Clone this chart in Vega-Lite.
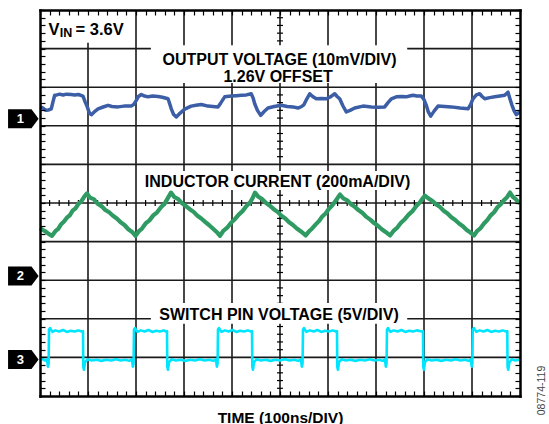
{
  "$schema": "https://vega.github.io/schema/vega-lite/v6.json",
  "width": 480,
  "height": 386,
  "autosize": {"type": "none"},
  "padding": {"left": 40, "top": 10, "right": 29, "bottom": 28},
  "background": "white",
  "config": {"view": {"stroke": null}, "font": "Liberation Sans"},
  "datasets": {
    "vgrid": [{"t":100},{"t":200},{"t":300},{"t":400},{"t":500},{"t":600},{"t":700},{"t":800},{"t":900}],
    "hgrid": [{"d":1},{"d":2},{"d":3},{"d":4},{"d":5},{"d":6},{"d":7},{"d":8},{"d":9}],
    "hticks": [{"t":20},{"t":40},{"t":60},{"t":80},{"t":120},{"t":140},{"t":160},{"t":180},{"t":220},{"t":240},{"t":260},{"t":280},{"t":320},{"t":340},{"t":360},{"t":380},{"t":420},{"t":440},{"t":460},{"t":480},{"t":520},{"t":540},{"t":560},{"t":580},{"t":620},{"t":640},{"t":660},{"t":680},{"t":720},{"t":740},{"t":760},{"t":780},{"t":820},{"t":840},{"t":860},{"t":880},{"t":920},{"t":940},{"t":960},{"t":980}],
    "vticks": [{"d":0.2},{"d":0.4},{"d":0.6},{"d":0.8},{"d":1.2},{"d":1.4},{"d":1.6},{"d":1.8},{"d":2.2},{"d":2.4},{"d":2.6},{"d":2.8},{"d":3.2},{"d":3.4},{"d":3.6},{"d":3.8},{"d":4.2},{"d":4.4},{"d":4.6},{"d":4.8},{"d":5.2},{"d":5.4},{"d":5.6},{"d":5.8},{"d":6.2},{"d":6.4},{"d":6.6},{"d":6.8},{"d":7.2},{"d":7.4},{"d":7.6},{"d":7.8},{"d":8.2},{"d":8.4},{"d":8.6},{"d":8.8},{"d":9.2},{"d":9.4},{"d":9.6},{"d":9.8}],
    "boxes": [
      {"t":2,"t2":187.5,"d":9.15,"d2":9.97},
      {"t":231,"t2":765,"d":8.11,"d2":9.09},
      {"t":210,"t2":777,"d":5.34,"d2":5.83},
      {"t":231,"t2":765,"d":1.87,"d2":2.41}
    ],
    "vout": [
      {"t":0,"v":7.49},{"t":5,"v":7.47},{"t":10,"v":7.42},{"t":13,"v":7.40},{"t":18,"v":7.41},{"t":23.5,"v":7.44},{"t":27,"v":7.62},{"t":30.6,"v":7.79},{"t":35,"v":7.80},{"t":41,"v":7.82},{"t":48,"v":7.80},{"t":55,"v":7.82},{"t":65,"v":7.81},{"t":72,"v":7.80},{"t":80,"v":7.81},{"t":89.6,"v":7.77},{"t":94,"v":7.62},{"t":98.5,"v":7.49},{"t":103,"v":7.33},{"t":107,"v":7.29},{"t":113,"v":7.36},{"t":121,"v":7.44},{"t":130,"v":7.48},{"t":141.7,"v":7.53},{"t":150,"v":7.50},{"t":162.5,"v":7.49},{"t":175,"v":7.51},{"t":190,"v":7.51},{"t":195,"v":7.55},{"t":200.6,"v":7.66},{"t":205,"v":7.76},{"t":211,"v":7.81},{"t":218,"v":7.77},{"t":225,"v":7.75},{"t":235,"v":7.77},{"t":245.8,"v":7.76},{"t":255,"v":7.74},{"t":266.7,"v":7.70},{"t":270,"v":7.58},{"t":273.5,"v":7.44},{"t":278,"v":7.30},{"t":284,"v":7.23},{"t":292,"v":7.33},{"t":301.5,"v":7.43},{"t":315,"v":7.51},{"t":325,"v":7.53},{"t":336,"v":7.55},{"t":350,"v":7.51},{"t":360,"v":7.50},{"t":370.8,"v":7.49},{"t":377,"v":7.60},{"t":384.8,"v":7.75},{"t":398.5,"v":7.77},{"t":409,"v":7.78},{"t":419.4,"v":7.79},{"t":430,"v":7.80},{"t":440,"v":7.83},{"t":444,"v":7.72},{"t":447.3,"v":7.57},{"t":453,"v":7.40},{"t":459.8,"v":7.27},{"t":467,"v":7.37},{"t":475,"v":7.46},{"t":488,"v":7.50},{"t":502.7,"v":7.53},{"t":515,"v":7.50},{"t":527,"v":7.49},{"t":537.5,"v":7.46},{"t":545,"v":7.50},{"t":550,"v":7.55},{"t":556,"v":7.70},{"t":561.9,"v":7.83},{"t":568,"v":7.76},{"t":575.6,"v":7.70},{"t":586,"v":7.71},{"t":596.5,"v":7.70},{"t":605,"v":7.75},{"t":614,"v":7.83},{"t":619,"v":7.76},{"t":624.4,"v":7.70},{"t":631,"v":7.52},{"t":638.1,"v":7.36},{"t":646,"v":7.40},{"t":655.6,"v":7.46},{"t":672.9,"v":7.51},{"t":690.2,"v":7.49},{"t":705,"v":7.48},{"t":718.1,"v":7.49},{"t":725,"v":7.60},{"t":731.9,"v":7.70},{"t":742.3,"v":7.75},{"t":753,"v":7.76},{"t":763.1,"v":7.75},{"t":770,"v":7.77},{"t":777.1,"v":7.79},{"t":785,"v":7.77},{"t":794.4,"v":7.77},{"t":800,"v":7.68},{"t":804.8,"v":7.53},{"t":809,"v":7.36},{"t":814,"v":7.25},{"t":821,"v":7.38},{"t":829.2,"v":7.51},{"t":843,"v":7.50},{"t":856.9,"v":7.49},{"t":875,"v":7.46},{"t":891.7,"v":7.44},{"t":897,"v":7.55},{"t":902.1,"v":7.70},{"t":909,"v":7.80},{"t":916,"v":7.83},{"t":921,"v":7.76},{"t":926.5,"v":7.70},{"t":937,"v":7.73},{"t":947.3,"v":7.75},{"t":958,"v":7.77},{"t":968.1,"v":7.79},{"t":975,"v":7.87},{"t":979,"v":7.70},{"t":983.3,"v":7.53},{"t":988,"v":7.38},{"t":992.3,"v":7.29},{"t":996,"v":7.33},{"t":1000,"v":7.36}
    ],
    "iind": [
      {"t":0,"v":4.35},{"t":6,"v":4.30},{"t":12,"v":4.26},{"t":18,"v":4.20},{"t":25,"v":4.15},{"t":32,"v":4.27},{"t":38,"v":4.33},{"t":44,"v":4.45},{"t":50,"v":4.52},{"t":56,"v":4.62},{"t":62,"v":4.68},{"t":68,"v":4.80},{"t":74,"v":4.86},{"t":80,"v":4.98},{"t":86,"v":5.04},{"t":92,"v":5.16},{"t":97.9,"v":5.25},{"t":104,"v":5.14},{"t":112,"v":5.10},{"t":120,"v":4.98},{"t":128,"v":4.92},{"t":136,"v":4.82},{"t":144,"v":4.76},{"t":152,"v":4.67},{"t":160,"v":4.60},{"t":168,"v":4.50},{"t":176,"v":4.43},{"t":184,"v":4.32},{"t":192,"v":4.25},{"t":199,"v":4.15},{"t":206,"v":4.27},{"t":212,"v":4.33},{"t":220,"v":4.47},{"t":228,"v":4.55},{"t":236,"v":4.68},{"t":244,"v":4.76},{"t":252,"v":4.89},{"t":260,"v":4.99},{"t":266,"v":5.12},{"t":272.9,"v":5.27},{"t":280,"v":5.15},{"t":288,"v":5.10},{"t":296,"v":4.99},{"t":304,"v":4.92},{"t":312,"v":4.84},{"t":320,"v":4.77},{"t":328,"v":4.67},{"t":336,"v":4.60},{"t":344,"v":4.51},{"t":352,"v":4.43},{"t":360,"v":4.34},{"t":368,"v":4.25},{"t":375,"v":4.15},{"t":382,"v":4.28},{"t":390,"v":4.36},{"t":398,"v":4.49},{"t":406,"v":4.58},{"t":414,"v":4.70},{"t":422,"v":4.79},{"t":430,"v":4.92},{"t":438,"v":5.02},{"t":443,"v":5.13},{"t":447.9,"v":5.27},{"t":455,"v":5.16},{"t":463,"v":5.10},{"t":471,"v":5.00},{"t":479,"v":4.93},{"t":487,"v":4.84},{"t":495,"v":4.77},{"t":503,"v":4.67},{"t":511,"v":4.60},{"t":519,"v":4.50},{"t":527,"v":4.43},{"t":535,"v":4.34},{"t":543,"v":4.27},{"t":553.5,"v":4.16},{"t":560,"v":4.26},{"t":567,"v":4.34},{"t":574,"v":4.44},{"t":581,"v":4.53},{"t":588,"v":4.65},{"t":595,"v":4.73},{"t":602,"v":4.85},{"t":609,"v":4.94},{"t":616,"v":5.06},{"t":625,"v":5.22},{"t":632,"v":5.12},{"t":640,"v":5.07},{"t":648,"v":4.97},{"t":656,"v":4.90},{"t":664,"v":4.81},{"t":672,"v":4.74},{"t":680,"v":4.64},{"t":688,"v":4.57},{"t":696,"v":4.48},{"t":704,"v":4.41},{"t":712,"v":4.32},{"t":720,"v":4.25},{"t":729.2,"v":4.16},{"t":736,"v":4.27},{"t":744,"v":4.36},{"t":752,"v":4.49},{"t":760,"v":4.58},{"t":768,"v":4.70},{"t":776,"v":4.79},{"t":784,"v":4.92},{"t":791,"v":5.01},{"t":796,"v":5.10},{"t":802,"v":5.19},{"t":809,"v":5.12},{"t":817,"v":5.06},{"t":825,"v":4.97},{"t":833,"v":4.90},{"t":841,"v":4.80},{"t":849,"v":4.73},{"t":857,"v":4.63},{"t":865,"v":4.56},{"t":873,"v":4.47},{"t":881,"v":4.40},{"t":889,"v":4.30},{"t":896,"v":4.24},{"t":904.2,"v":4.16},{"t":911,"v":4.28},{"t":918,"v":4.35},{"t":925,"v":4.47},{"t":932,"v":4.56},{"t":939,"v":4.68},{"t":946,"v":4.76},{"t":953,"v":4.89},{"t":960,"v":4.97},{"t":967,"v":5.08},{"t":973,"v":5.15},{"t":979.2,"v":5.27},{"t":985,"v":5.16},{"t":991,"v":5.10},{"t":996,"v":5.03},{"t":1000,"v":5.00}
    ],
    "vsw": [
      {"t":0,"v":0.94},{"t":5,"v":0.96},{"t":10,"v":0.92},{"t":14.5,"v":0.95},{"t":16.5,"v":0.76},{"t":18,"v":0.84},{"t":18.75,"v":1.72},{"t":21,"v":1.76},{"t":26,"v":1.66},{"t":32,"v":1.70},{"t":40,"v":1.67},{"t":48,"v":1.71},{"t":56,"v":1.66},{"t":64,"v":1.69},{"t":72,"v":1.67},{"t":80,"v":1.70},{"t":87,"v":1.67},{"t":89.6,"v":1.68},{"t":90.2,"v":0.76},{"t":91.5,"v":0.68},{"t":94,"v":0.88},{"t":99,"v":0.95},{"t":108,"v":0.92},{"t":118,"v":0.94},{"t":128,"v":0.91},{"t":138,"v":0.94},{"t":148,"v":0.92},{"t":158,"v":0.95},{"t":168,"v":0.92},{"t":178,"v":0.94},{"t":186,"v":0.91},{"t":191.5,"v":0.95},{"t":193.5,"v":0.76},{"t":195,"v":0.84},
      {"t":195.8,"v":1.72},{"t":198,"v":1.76},{"t":203,"v":1.66},{"t":210,"v":1.70},{"t":218,"v":1.67},{"t":226,"v":1.71},{"t":234,"v":1.66},{"t":242,"v":1.69},{"t":250,"v":1.67},{"t":258,"v":1.70},{"t":262.5,"v":1.67},{"t":264.6,"v":1.68},{"t":265.2,"v":0.76},{"t":266.5,"v":0.68},{"t":269,"v":0.88},{"t":274,"v":0.95},{"t":283,"v":0.92},{"t":293,"v":0.94},{"t":303,"v":0.91},{"t":313,"v":0.94},{"t":323,"v":0.92},{"t":333,"v":0.95},{"t":343,"v":0.92},{"t":353,"v":0.94},{"t":361,"v":0.91},{"t":366.5,"v":0.95},{"t":368.5,"v":0.76},{"t":370,"v":0.84},
      {"t":370.8,"v":1.72},{"t":373,"v":1.76},{"t":378,"v":1.66},{"t":385,"v":1.70},{"t":393,"v":1.67},{"t":401,"v":1.71},{"t":409,"v":1.66},{"t":417,"v":1.69},{"t":425,"v":1.67},{"t":433,"v":1.70},{"t":439.5,"v":1.67},{"t":441.7,"v":1.68},{"t":442.3,"v":0.76},{"t":443.6,"v":0.68},{"t":446,"v":0.88},{"t":451,"v":0.95},{"t":460,"v":0.92},{"t":470,"v":0.94},{"t":480,"v":0.91},{"t":490,"v":0.94},{"t":500,"v":0.92},{"t":510,"v":0.95},{"t":520,"v":0.92},{"t":530,"v":0.94},{"t":538,"v":0.91},{"t":543.5,"v":0.95},{"t":545.5,"v":0.76},{"t":547,"v":0.84},
      {"t":547.9,"v":1.72},{"t":550,"v":1.76},{"t":555,"v":1.66},{"t":562,"v":1.70},{"t":570,"v":1.67},{"t":578,"v":1.71},{"t":586,"v":1.66},{"t":594,"v":1.69},{"t":602,"v":1.67},{"t":610,"v":1.70},{"t":616.5,"v":1.67},{"t":618.75,"v":1.68},{"t":619.3,"v":0.76},{"t":620.6,"v":0.68},{"t":623,"v":0.88},{"t":628,"v":0.95},{"t":637,"v":0.92},{"t":647,"v":0.94},{"t":657,"v":0.91},{"t":667,"v":0.94},{"t":677,"v":0.92},{"t":687,"v":0.95},{"t":697,"v":0.92},{"t":707,"v":0.94},{"t":714,"v":0.91},{"t":718.5,"v":0.95},{"t":720.5,"v":0.76},{"t":722,"v":0.84},
      {"t":722.9,"v":1.72},{"t":725,"v":1.76},{"t":730,"v":1.66},{"t":737,"v":1.70},{"t":745,"v":1.67},{"t":753,"v":1.71},{"t":761,"v":1.66},{"t":769,"v":1.69},{"t":777,"v":1.67},{"t":785,"v":1.70},{"t":795.5,"v":1.67},{"t":797.9,"v":1.68},{"t":798.5,"v":0.76},{"t":799.8,"v":0.68},{"t":802,"v":0.88},{"t":807,"v":0.95},{"t":816,"v":0.92},{"t":826,"v":0.94},{"t":836,"v":0.91},{"t":846,"v":0.94},{"t":856,"v":0.92},{"t":866,"v":0.95},{"t":876,"v":0.92},{"t":886,"v":0.94},{"t":893,"v":0.91},{"t":897.5,"v":0.95},{"t":899.5,"v":0.76},{"t":900.8,"v":0.84},
      {"t":901.5,"v":1.72},{"t":904,"v":1.76},{"t":909,"v":1.66},{"t":916,"v":1.70},{"t":924,"v":1.67},{"t":932,"v":1.71},{"t":940,"v":1.66},{"t":948,"v":1.69},{"t":956,"v":1.67},{"t":964,"v":1.70},{"t":971,"v":1.67},{"t":973.5,"v":1.68},{"t":974.1,"v":0.76},{"t":975.4,"v":0.68},{"t":978,"v":0.88},{"t":983,"v":0.95},{"t":990,"v":0.92},{"t":1000,"v":0.94}
    ],
    "labels": [
      {"t":499,"d":8.575,"text":"OUTPUT VOLTAGE (10mV/DIV)"},
      {"t":496,"d":8.14,"text":"1.26V OFFSET"},
      {"t":495,"d":5.42,"text":"INDUCTOR CURRENT (200mA/DIV)"},
      {"t":498,"d":1.97,"text":"SWITCH PIN VOLTAGE (5V/DIV)"}
    ],
    "vinbig": [
      {"t":17.7,"d":9.365,"text":"V"},
      {"t":74,"d":9.365,"text":"= 3.6V"}
    ],
    "vinsub": [
      {"t":41.2,"d":9.288,"text":"IN"}
    ],
    "flags": [
      {"t":-34.7,"d":7.18,"label":"1"},
      {"t":-34.7,"d":3.11,"label":"2"},
      {"t":-34.7,"d":0.946,"label":"3"}
    ]
  },
  "layer": [
    {
      "data": {"name": "vgrid"},
      "mark": {"type": "rule", "color": "#1a1a1a", "strokeWidth": 1.6},
      "encoding": {
        "x": {"field": "t", "type": "quantitative", "scale": {"domain": [0, 1000], "nice": false, "zero": false},
          "axis": {"orient": "bottom", "values": [0,20,40,60,80,100,120,140,160,180,200,220,240,260,280,300,320,340,360,380,400,420,440,460,480,500,520,540,560,580,600,620,640,660,680,700,720,740,760,780,800,820,840,860,880,900,920,940,960,980,1000],
            "tickSize": -5, "tickWidth": 1.2, "tickColor": "#000", "labels": false, "grid": false,
            "domainWidth": 2.5, "domainColor": "#000", "domainCap": "square", "zindex": 1,
            "title": "TIME (100ns/DIV)", "titleFont": "Liberation Sans", "titleFontSize": 15.5, "titleFontWeight": "bold", "titleColor": "#000",
            "titleX": 240, "titleY": 26, "titleBaseline": "alphabetic", "titleAlign": "center"}}
      }
    },
    {
      "data": {"name": "hgrid"},
      "mark": {"type": "rule", "color": "#1a1a1a", "strokeWidth": 1.6},
      "encoding": {
        "y": {"field": "d", "type": "quantitative", "scale": {"domain": [0, 10], "nice": false, "zero": false},
          "axis": {"orient": "left", "values": [0,0.2,0.4,0.6,0.8,1,1.2,1.4,1.6,1.8,2,2.2,2.4,2.6,2.8,3,3.2,3.4,3.6,3.8,4,4.2,4.4,4.6,4.8,5,5.2,5.4,5.6,5.8,6,6.2,6.4,6.6,6.8,7,7.2,7.4,7.6,7.8,8,8.2,8.4,8.6,8.8,9,9.2,9.4,9.6,9.8,10],
            "tickSize": -5, "tickWidth": 1.2, "tickColor": "#000", "labels": false, "grid": false,
            "domainWidth": 2.5, "domainColor": "#000", "domainCap": "square", "zindex": 1, "title": null}}
      }
    },
    {
      "data": {"name": "hticks"},
      "mark": {"type": "tick", "orient": "vertical", "size": 6, "thickness": 1.2, "color": "#000", "opacity": 1},
      "encoding": {
        "x": {"field": "t", "type": "quantitative", "scale": {"domain": [0, 1000], "nice": false, "zero": false},
          "axis": {"orient": "top", "values": [0,20,40,60,80,100,120,140,160,180,200,220,240,260,280,300,320,340,360,380,400,420,440,460,480,500,520,540,560,580,600,620,640,660,680,700,720,740,760,780,800,820,840,860,880,900,920,940,960,980,1000],
            "tickSize": -5, "tickWidth": 1.2, "tickColor": "#000", "labels": false, "grid": false,
            "domainWidth": 2.5, "domainColor": "#000", "domainCap": "square", "zindex": 1, "title": null}},
        "y": {"datum": 5, "type": "quantitative", "axis": null}
      }
    },
    {
      "data": {"name": "vticks"},
      "mark": {"type": "tick", "orient": "horizontal", "size": 6, "thickness": 1.2, "color": "#000", "opacity": 1},
      "encoding": {
        "x": {"datum": 500, "type": "quantitative", "axis": null},
        "y": {"field": "d", "type": "quantitative", "scale": {"domain": [0, 10], "nice": false, "zero": false},
          "axis": {"orient": "right", "values": [0,0.2,0.4,0.6,0.8,1,1.2,1.4,1.6,1.8,2,2.2,2.4,2.6,2.8,3,3.2,3.4,3.6,3.8,4,4.2,4.4,4.6,4.8,5,5.2,5.4,5.6,5.8,6,6.2,6.4,6.6,6.8,7,7.2,7.4,7.6,7.8,8,8.2,8.4,8.6,8.8,9,9.2,9.4,9.6,9.8,10],
            "tickSize": -5, "tickWidth": 1.2, "tickColor": "#000", "labels": false, "grid": false,
            "domainWidth": 2.5, "domainColor": "#000", "domainCap": "square", "zindex": 1,
            "title": "08774-119", "titleAngle": 270, "titleFont": "Liberation Sans", "titleFontSize": 10.5, "titleFontWeight": "normal", "titleColor": "#444",
            "titleX": 21, "titleY": 380, "titleAlign": "center", "titleBaseline": "middle"}}
      }
    },
    {
      "data": {"name": "boxes"},
      "mark": {"type": "rect", "fill": "#ffffff"},
      "encoding": {
        "x": {"field": "t", "type": "quantitative", "axis": null},
        "x2": {"field": "t2"},
        "y": {"field": "d", "type": "quantitative", "axis": null},
        "y2": {"field": "d2"}
      }
    },
    {
      "data": {"name": "vout"},
      "mark": {"type": "line", "color": "#3b5ea6", "strokeWidth": 3.5, "strokeJoin": "round"},
      "encoding": {
        "x": {"field": "t", "type": "quantitative", "axis": null},
        "y": {"field": "v", "type": "quantitative", "axis": null}
      }
    },
    {
      "data": {"name": "iind"},
      "mark": {"type": "line", "color": "#2f9b63", "strokeWidth": 4.2, "strokeJoin": "round"},
      "encoding": {
        "x": {"field": "t", "type": "quantitative", "axis": null},
        "y": {"field": "v", "type": "quantitative", "axis": null}
      }
    },
    {
      "data": {"name": "vsw"},
      "mark": {"type": "line", "color": "#00e5ff", "strokeWidth": 2.6, "strokeJoin": "round"},
      "encoding": {
        "x": {"field": "t", "type": "quantitative", "axis": null},
        "y": {"field": "v", "type": "quantitative", "axis": null}
      }
    },
    {
      "data": {"name": "labels"},
      "mark": {"type": "text", "font": "Liberation Sans", "fontWeight": "bold", "fontSize": 16, "align": "center", "baseline": "alphabetic", "color": "#000"},
      "encoding": {
        "x": {"field": "t", "type": "quantitative", "axis": null},
        "y": {"field": "d", "type": "quantitative", "axis": null},
        "text": {"field": "text"}
      }
    },
    {
      "data": {"name": "vinbig"},
      "mark": {"type": "text", "font": "Liberation Sans", "fontWeight": "bold", "fontSize": 16.5, "align": "left", "baseline": "alphabetic", "color": "#000"},
      "encoding": {
        "x": {"field": "t", "type": "quantitative", "axis": null},
        "y": {"field": "d", "type": "quantitative", "axis": null},
        "text": {"field": "text"}
      }
    },
    {
      "data": {"name": "vinsub"},
      "mark": {"type": "text", "font": "Liberation Sans", "fontWeight": "bold", "fontSize": 12.5, "align": "left", "baseline": "alphabetic", "color": "#000"},
      "encoding": {
        "x": {"field": "t", "type": "quantitative", "axis": null},
        "y": {"field": "d", "type": "quantitative", "axis": null},
        "text": {"field": "text"}
      }
    },
    {
      "data": {"name": "flags"},
      "mark": {"type": "point", "shape": "M-0.9,-0.56L0.48,-0.56L0.9,0L0.48,0.56L-0.9,0.56Z", "size": 1150, "filled": true, "fill": "#000", "strokeWidth": 0, "opacity": 1},
      "encoding": {
        "x": {"field": "t", "type": "quantitative", "axis": null},
        "y": {"field": "d", "type": "quantitative", "axis": null}
      }
    },
    {
      "data": {"name": "flags"},
      "mark": {"type": "text", "font": "Liberation Sans", "fontWeight": "bold", "fontSize": 13, "align": "center", "baseline": "middle", "color": "#ffffff", "dx": -3, "dy": 0.5},
      "encoding": {
        "x": {"field": "t", "type": "quantitative", "axis": null},
        "y": {"field": "d", "type": "quantitative", "axis": null},
        "text": {"field": "label"}
      }
    }
  ],
  "resolve": {"axis": {"x": "independent", "y": "independent"}}
}
